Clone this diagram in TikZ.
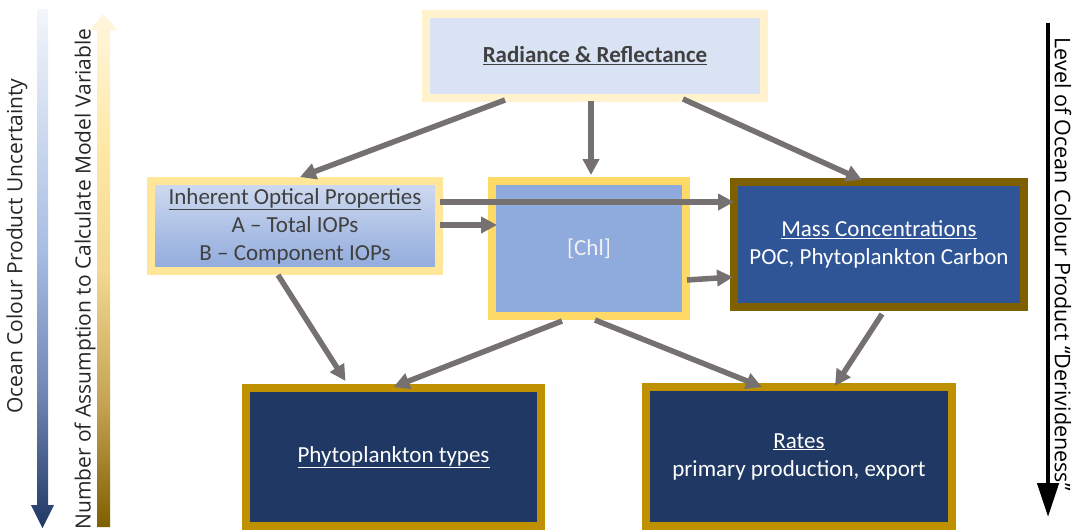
\documentclass[tikz,border=0pt]{standalone}
\usepackage{fontspec}
\setmainfont{Carlito}
\newfontfamily\sidefont{Open Sans}
\usetikzlibrary{arrows.meta,calc}
\definecolor{radB}{HTML}{FFF2CC}
\definecolor{radF}{HTML}{DAE3F3}
\definecolor{iopB}{HTML}{FFE699}
\definecolor{iopT}{HTML}{D0DBF0}
\definecolor{iopBot}{HTML}{8FAADC}
\definecolor{chlB}{HTML}{FFD966}
\definecolor{chlF}{HTML}{8FAADC}
\definecolor{massB}{HTML}{7F6000}
\definecolor{massF}{HTML}{2F5597}
\definecolor{botB}{HTML}{BF9000}
\definecolor{botF}{HTML}{203864}
\definecolor{dgray}{HTML}{404040}
\definecolor{arrG}{HTML}{767171}
\definecolor{gA}{HTML}{7F6000}
\definecolor{gB}{HTML}{C4A352}
\definecolor{gC}{HTML}{F2D891}
\definecolor{gD}{HTML}{FFE8A6}
\definecolor{gE}{HTML}{FFF6DE}
\definecolor{bA}{HTML}{203864}
\definecolor{bB}{HTML}{7087B6}
\definecolor{bC}{HTML}{A9BEE4}
\definecolor{bD}{HTML}{F3F6FB}
\pgfdeclareverticalshading{goldsh}{100bp}{color(0bp)=(gA); color(25bp)=(gA); color(37bp)=(gB); color(50bp)=(gC); color(62bp)=(gD); color(75bp)=(gE); color(100bp)=(gE)}
\pgfdeclareverticalshading{bluesh}{100bp}{color(0bp)=(bA); color(25bp)=(bA); color(38bp)=(bB); color(52bp)=(bC); color(75bp)=(bD); color(100bp)=(bD)}
\tikzset{
  box/.style={draw, line width=8pt, inner sep=0pt, outer sep=0pt, align=center,
    font=\fontsize{23}{28}\selectfont},
  side/.style={inner sep=0pt, font=\sidefont\fontsize{21}{24}\selectfont, text=black!85},
  conn/.style={draw=arrG, line width=5.5pt, -{Triangle[length=16pt,width=16pt]}}
}
\begin{document}
\begin{tikzpicture}[x=1pt,y=-1pt]
\useasboundingbox[fill=white] (0,0) rectangle (1073,531);
% side arrows
\shade[shading=bluesh] (37,9) -- (48,9) -- (48,505) -- (54,505) -- (42.5,528) -- (31,505) -- (37,505) -- cycle;
\shade[shading=goldsh] (97,527) -- (110,527) -- (110,30) -- (117,30) -- (103.5,14) -- (90,30) -- (97,30) -- cycle;
\node[side, rotate=90] (unc) at (17,246) {Ocean Colour Product Uncertainty};
\node[side, rotate=90] (ass) at (85,279) {Number of Assumption to Calculate Model Variable};
\coordinate (rt) at (1048,23);
\coordinate (rb) at (1048,517);
\draw[line width=4.5pt, -{Triangle[length=34pt,width=21pt]}] (rt) -- (rb);
\node[side, rotate=-90, text=black, font=\sidefont\fontsize{21.5}{24}\selectfont] (lev) at (1063,264) {Level of Ocean Colour Product “Derivideness”};
% boxes
\node[box, draw=radB, fill=radF, text=dgray, minimum width=338pt, minimum height=84pt] (rad) at (595,56) {\textbf{\underline{Radiance \& Reflectance}}};
\node[box, draw=iopB, top color=iopT, bottom color=iopBot, text=dgray, minimum width=288pt, minimum height=90pt] (iop) at (295,226) {\underline{Inherent Optical Properties}\\A – Total IOPs\\B – Component IOPs};
\node[box, draw=chlB, fill=chlF, text=white!95!black, minimum width=194pt, minimum height=135pt] (chl) at (589,248.5) {[Chl]};
\node[box, draw=massB, fill=massF, text=white, minimum width=290pt, minimum height=125pt] (mass) at (879,244.5) {\underline{Mass Concentrations}\\POC, Phytoplankton Carbon};
\node[box, draw=botB, fill=botF, text=white, minimum width=295pt, minimum height=138pt] (phyto) at (393.5,457) {\underline{Phytoplankton types}};
\node[box, draw=botB, fill=botF, text=white, minimum width=306pt, minimum height=139pt] (rates) at (799,456.5) {\underline{Rates}\\primary production, export};
% connectors
\draw[conn] ($(rad.south)+(-90,2)$) -- ($(iop.north)+(5,-4)$);
\draw[conn] ($(rad.south)+(-4,3)$) -- ($(chl.north)+(2,-6)$);
\draw[conn] ($(rad.south)+(88,1)$) -- ($(mass.north)+(-17,-2)$);
\draw[conn] ($(iop.east)+(1,-24)$) -- ($(mass.west)+(0,-42.5)$);
\draw[conn] ($(iop.east)+(1,-1)$) -- ($(chl.west)+(5,-23.5)$);
\draw[conn] ($(chl.east)+(1,31.5)$) -- ($(mass.west)+(-1,32.5)$);
\draw[conn] ($(iop.south)+(-17,4)$) -- ($(phyto.north)+(-48,-7)$);
\draw[conn] ($(chl.south)+(-27,5)$) -- ($(phyto.north)+(0,-1)$);
\draw[conn] ($(chl.south)+(6,4)$) -- ($(rates.north)+(-37,0)$);
\draw[conn] ($(mass.south)+(3,7)$) -- ($(rates.north)+(36,-1)$);
\end{tikzpicture}
\end{document}
